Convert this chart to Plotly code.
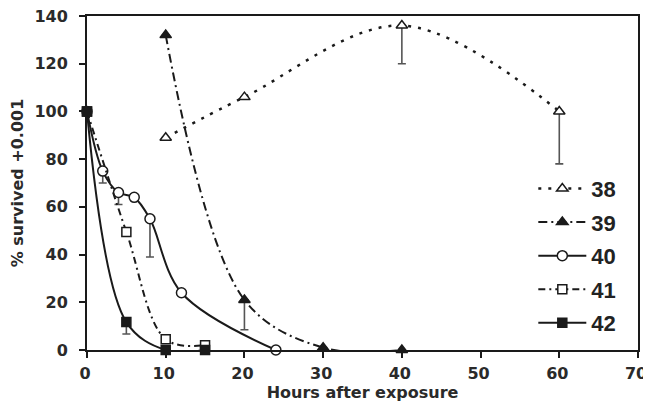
import plotly.graph_objects as go

# ---- data ----
hours_38 = [10, 20, 40, 60]
surv_38 = [89, 106, 136, 100]
err_38 = [0, 0, 16, 22]

hours_39 = [10, 20, 30, 40]
surv_39 = [132, 21, 1, 0]
err_39 = [0, 12.5, 0, 0]

hours_40 = [0, 2, 4, 6, 8, 12, 24]
surv_40 = [100, 75, 66, 64, 55, 24, 0]
err_40 = [0, 5, 5, 0, 16, 0, 0]

hours_41 = [0, 5, 10, 15]
surv_41 = [100, 49.5, 4.5, 2]
err_41 = [0, 0, 0, 0]

hours_42 = [0, 5, 10, 15]
surv_42 = [100, 11.7, 0, 0]
err_42 = [0, 5, 0, 0]

x_ticks = [0, 10, 20, 30, 40, 50, 60, 70]
y_ticks = [0, 20, 40, 60, 80, 100, 120, 140]

INK = "#1a1a1a"
AXFONT = dict(family="DejaVu Sans", size=16, color="#2a2a2a", weight="bold")


def err(vals):
    return dict(type="data", symmetric=False, array=[0] * len(vals), arrayminus=vals,
                color="#555555", thickness=1.6, width=4)


fig = go.Figure()

specs = [
    ("38", hours_38, surv_38, err_38, "3px,7px", 2.5, "triangle-up-open", 10),
    ("39", hours_39, surv_39, err_39, "9px,4px,2px,4px", 2, "triangle-up", 10),
    ("40", hours_40, surv_40, err_40, "solid", 2, "circle-open", 10),
    ("41", hours_41, surv_41, err_41, "7px,4px,2px,4px", 2, "square-open", 9),
    ("42", hours_42, surv_42, err_42, "solid", 2, "square", 9),
]

for name, xs, ys, es, dash, lw, sym, ms in specs:
    open_m = sym.endswith("-open")
    fig.add_trace(go.Scatter(
        x=xs, y=ys, name=name, legendgroup=name,
        mode="lines+markers",
        line=dict(color=INK, width=lw, dash=dash, shape="spline", smoothing=1),
        marker=dict(symbol=sym.replace("-open", "") if open_m else sym,
                    size=ms,
                    color="white" if open_m else INK,
                    line=dict(color=INK, width=1.5)),
        error_y=err(es),
        cliponaxis=False,
    ))

# page body has an 8px default margin, so the figure is sized/offset to compensate
fig.update_layout(
    width=643, height=401,
    margin=dict(l=79, r=13, t=8, b=59, autoexpand=False),
    paper_bgcolor="white", plot_bgcolor="white",
    showlegend=True,
    legend=dict(x=0.81, y=0.546, xanchor="left", yanchor="top",
                bgcolor="rgba(0,0,0,0)",
                font=dict(family="Liberation Sans", size=22, color="#222222", weight="bold"),
                itemwidth=48, tracegroupgap=2),
    xaxis=dict(range=[0, 70], tickvals=x_ticks, showgrid=False, zeroline=False,
               automargin=False, ticklabeloverflow="allow", ticklabelshift=-2,
               showline=True, linecolor=INK, linewidth=2, mirror=True,
               ticks="outside", ticklen=6, tickwidth=2, tickcolor=INK,
               tickfont=AXFONT, ticklabelstandoff=2,
               title=dict(text="Hours after exposure", font=AXFONT, standoff=5)),
    yaxis=dict(range=[0, 140], tickvals=y_ticks, showgrid=False, zeroline=False,
               automargin=False, ticklabeloverflow="allow",
               showline=True, linecolor=INK, linewidth=2, mirror=True,
               ticks="outside", ticklen=6, tickwidth=2, tickcolor=INK,
               tickfont=AXFONT, ticklabelstandoff=8,
               title=dict(text="% survived +0.001", font=AXFONT, standoff=7)),
)

fig.write_html("out.html")
